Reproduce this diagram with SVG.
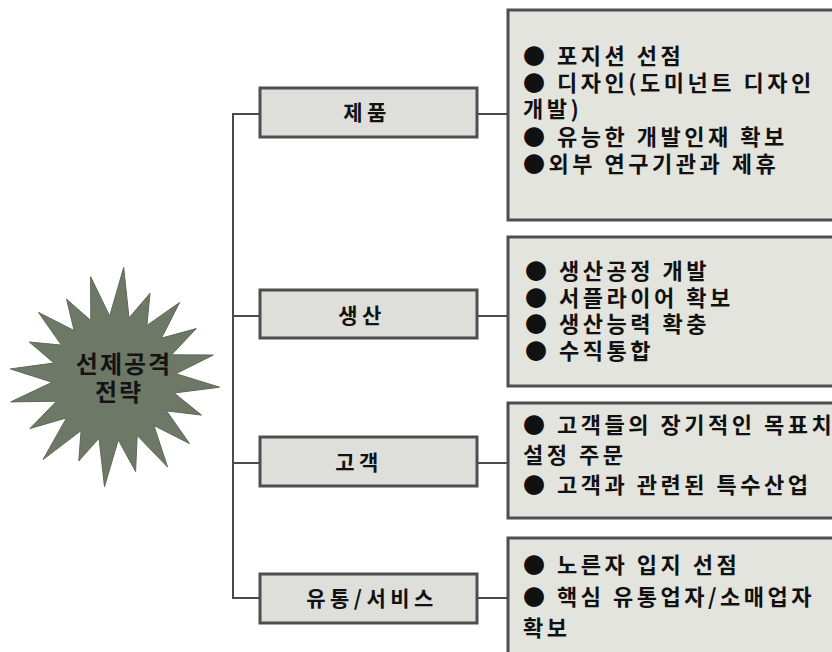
<svg xmlns="http://www.w3.org/2000/svg" width="832" height="652" viewBox="0 0 832 652">
<style>
.bg{fill:#ffffff}
.cat{fill:#dededa;stroke:#4e4e4e;stroke-width:3}
.det{fill:#e3e4dd;stroke:#4e4e4e;stroke-width:3}
.ln{fill:none;stroke:#4a4a4a;stroke-width:2}
.star{fill:#6e7866;stroke:#5f6858;stroke-width:1}
text{font-family:"Noto Sans CJK KR","Noto Sans CJK SC",sans-serif;fill:#111111;font-weight:bold}
.ct{font-size:21px;letter-spacing:4.5px;text-anchor:middle}
.dt{font-size:22px;letter-spacing:3.5px}
.st{font-size:24px;letter-spacing:2px;text-anchor:middle;fill:#141414}
</style>
<rect class="bg" x="0" y="0" width="832" height="652"/>
<g id="connectors">
<polyline class="ln" points="260,114 233,114 233,598 260,598"/>
<line class="ln" x1="233" y1="316" x2="260" y2="316"/>
<line class="ln" x1="233" y1="463" x2="260" y2="463"/>
<line class="ln" x1="477" y1="114" x2="508" y2="114"/>
<line class="ln" x1="477" y1="316" x2="508" y2="316"/>
<line class="ln" x1="477" y1="463" x2="508" y2="463"/>
<line class="ln" x1="477" y1="598" x2="508" y2="598"/>
</g>
<g id="root">
<polygon class="star" points="219.6,387.2 174.2,393.0 201.5,415.1 166.6,410.9 189.5,443.6 153.9,425.5 167.6,467.1 137.2,435.5 135.6,471.5 118.3,439.9 104.5,486.6 99.0,438.2 78.8,460.9 81.1,430.6 43.1,459.5 66.5,417.9 30.0,428.5 56.5,401.2 10.7,401.9 52.1,382.3 10.4,368.9 53.9,363.0 29.3,342.0 61.4,345.1 38.5,312.4 74.1,330.5 66.6,299.2 90.8,320.5 90.6,276.7 109.7,316.1 123.7,267.4 129.0,317.9 150.0,293.3 146.9,325.4 179.6,302.5 161.5,338.1 196.3,328.6 171.5,354.8 213.3,355.0 175.9,373.7"/>
<text class="st" x="124" y="373">선제공격</text>
<text class="st" x="119" y="401">전략</text>
</g>
<g id="cat-product">
<rect class="cat" x="260" y="88" width="217" height="49"/>
<text class="ct" x="367" y="120">제품</text>
</g>
<g id="cat-production">
<rect class="cat" x="260" y="290" width="217" height="48"/>
<text class="ct" x="362" y="323">생산</text>
</g>
<g id="cat-customer">
<rect class="cat" x="260" y="437" width="217" height="49"/>
<text class="ct" x="359" y="470">고객</text>
</g>
<g id="cat-distribution">
<rect class="cat" x="260" y="574" width="217" height="49"/>
<text class="ct" x="372" y="606">유통/서비스</text>
</g>
<g id="det-product">
<rect class="det" x="508" y="10" width="340" height="210"/>
<text class="dt" x="523" y="64">● 포지션 선점</text>
<text class="dt" x="523" y="91">● 디자인(도미넌트  디자인</text>
<text class="dt" x="523" y="117">개발)</text>
<text class="dt" x="523" y="145">● 유능한 개발인재 확보</text>
<text class="dt" x="523" y="172">●외부 연구기관과 제휴</text>
</g>
<g id="det-production">
<rect class="det" x="508" y="237" width="340" height="149"/>
<text class="dt" x="525" y="279">● 생산공정 개발</text>
<text class="dt" x="525" y="306">● 서플라이어 확보</text>
<text class="dt" x="525" y="332">● 생산능력 확충</text>
<text class="dt" x="525" y="359">● 수직통합</text>
</g>
<g id="det-customer">
<rect class="det" x="508" y="403" width="340" height="115"/>
<text class="dt" x="523" y="433">● 고객들의 장기적인 목표치</text>
<text class="dt" x="523" y="463">설정 주문</text>
<text class="dt" x="523" y="493">● 고객과 관련된 특수산업</text>
</g>
<g id="det-distribution">
<rect class="det" x="508" y="538" width="340" height="130"/>
<text class="dt" x="523" y="573">● 노른자 입지 선점</text>
<text class="dt" x="523" y="605">● 핵심 유통업자/소매업자</text>
<text class="dt" x="523" y="636">확보</text>
</g>
</svg>
